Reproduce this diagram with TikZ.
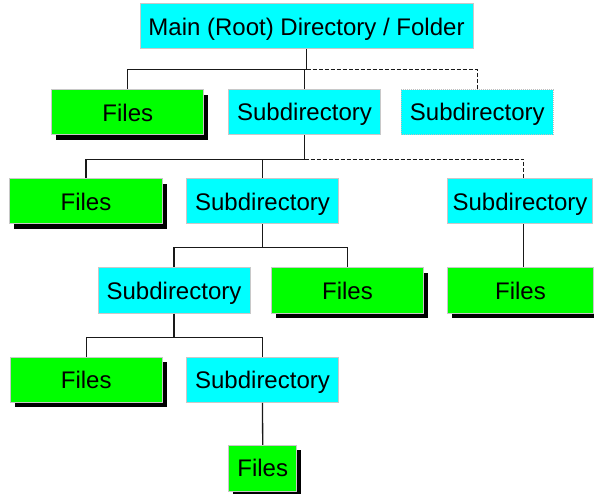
\documentclass[tikz,border=0pt]{standalone}
\usepackage{fontspec}
\setmainfont{Liberation Sans}
\usetikzlibrary{shadows}
\definecolor{dircyan}{RGB}{0,255,255}
\definecolor{filegreen}{RGB}{0,255,0}
\definecolor{boxedge}{RGB}{200,200,200}
\begin{document}
\begin{tikzpicture}[x=1pt,y=-1pt,
  basebox/.style={draw=boxedge, line width=1pt, inner sep=0pt, text height=17.2pt, text depth=0pt,
    font=\fontsize{24}{28}\selectfont, minimum height=45pt},
  dirbox/.style={basebox, fill=dircyan, minimum width=152pt},
  filebox/.style={basebox, fill=filegreen, minimum width=152pt,
    drop shadow={shadow xshift=4.5pt, shadow yshift=-5pt, opacity=1, fill=black}},
  conn/.style={draw=black!90, line width=1.3pt},
  dconn/.style={conn, dash pattern=on 4pt off 2pt}]
\useasboundingbox (0,0) rectangle (594,494);
% nodes
\node[dirbox, minimum width=333pt] (root) at (306.5,26.5) {Main (Root) Directory / Folder};
\node[filebox] (f1) at (127.8,112.5) {Files};
\node[dirbox] (s1) at (304.5,112.3) {Subdirectory};
\node[dirbox, draw=gray!50, dash pattern=on 1pt off 1pt] (s2) at (477.3,112.3) {Subdirectory};
\node[filebox, minimum width=153pt] (f2) at (86,201.5) {Files};
\node[dirbox] (s3) at (262.5,201.5) {Subdirectory};
\node[dirbox, minimum width=144.5pt] (s4) at (520,201.5) {Subdirectory};
\node[dirbox] (s5) at (174,290.5) {Subdirectory};
\node[filebox] (f3) at (347.5,290.5) {Files};
\node[filebox, minimum width=145.5pt] (f4) at (520.5,290.5) {Files};
\node[filebox] (f5) at (86.2,379.8) {Files};
\node[dirbox, minimum width=152.5pt] (s6) at (262.5,379.8) {Subdirectory};
\node[filebox, minimum width=67.5pt, minimum height=45.7pt] (f6) at (262.7,468.2) {Files};
% connectors level 1
\coordinate (j0) at ([yshift=-20.3pt]root.south);
\draw[conn] (root.south) -- (j0);
\draw[conn] (j0) -| (f1.north);
\draw[conn] (j0) -| (s1.north);
\draw[dconn] (j0) -| (s2.north);
% level 2
\coordinate (j1) at ([yshift=-24pt]s1.south);
\draw[conn] (s1.south) -- (j1);
\draw[conn] (j1) -| (f2.north);
\draw[conn] (j1) -| (s3.north);
\draw[dconn] (j1) -| ([xshift=3.3pt]s4.north);
% level 3
\coordinate (j2) at ([yshift=-23.3pt]s3.south);
\draw[conn] (s3.south) -- (j2);
\draw[conn] (j2) -| (s5.north);
\draw[conn] (j2) -| (f3.north);
\draw[conn] ([xshift=3.3pt]s4.south) -- ([xshift=3.3pt]s4.south |- f4.north);
% level 4
\coordinate (j3) at ([yshift=-24pt]s5.south);
\draw[conn] (s5.south) -- (j3);
\draw[conn] (j3) -| (f5.north);
\draw[conn] (j3) -| (s6.north);
% level 5
\draw[conn] (s6.south) -- (f6.north);
\end{tikzpicture}
\end{document}
